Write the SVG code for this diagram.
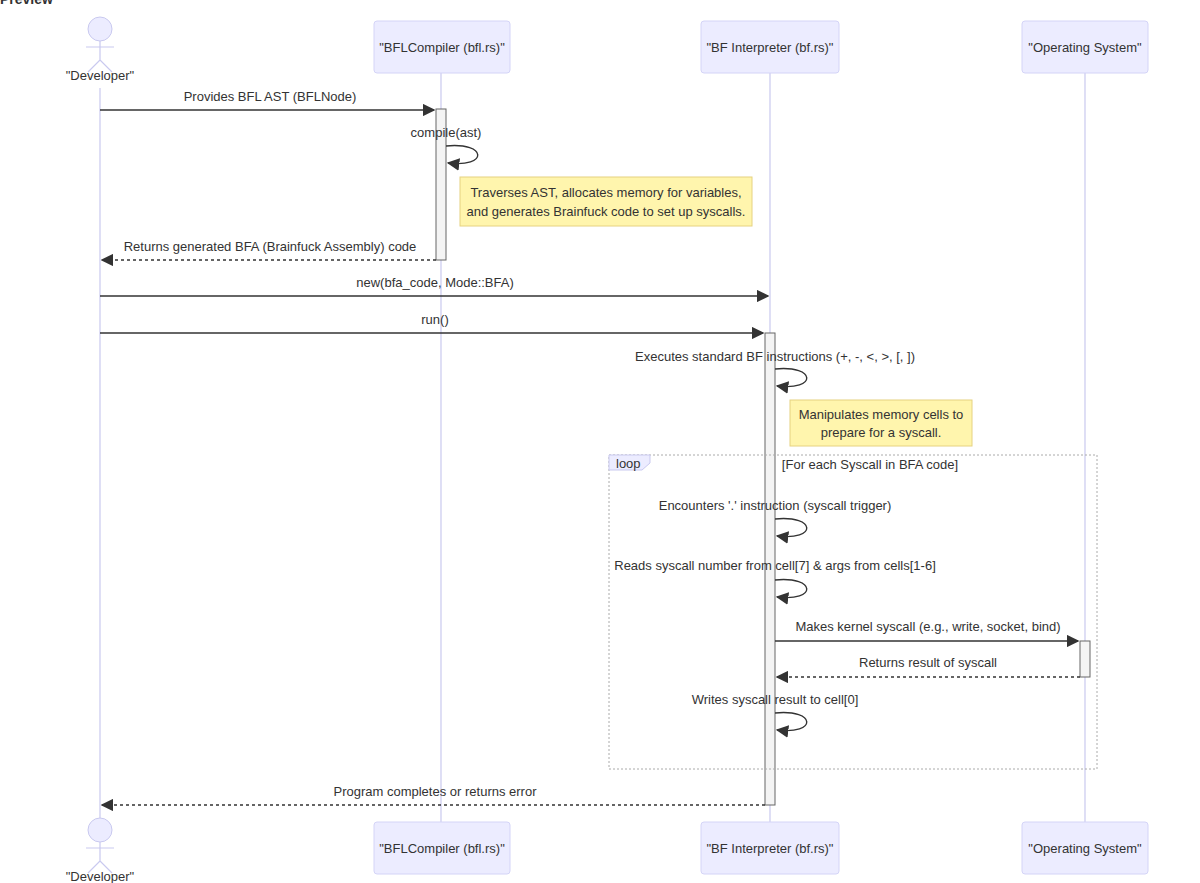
<svg xmlns="http://www.w3.org/2000/svg" width="1200" height="883" viewBox="0 0 1200 883">
<style>
text{font-family:"Liberation Sans",Arial,sans-serif;font-size:13px;fill:#333}
.box{fill:#ECECFF;stroke:#d4d4f7;stroke-width:1}
.life{stroke:#c9c9ef;stroke-width:1.2}
.act{fill:#f4f4f4;stroke:#666;stroke-width:1}
.msg{stroke:#333;stroke-width:1.4;fill:none}
.dash{stroke-dasharray:3,3}
.note{fill:#fff5ad;stroke:#e6d280;stroke-width:1}
.c{text-anchor:middle}
</style>
<defs><marker id="ah" viewBox="0 0 10 10" refX="9" refY="5" markerWidth="9" markerHeight="9" orient="auto"><path d="M0,0L10,5L0,10z" fill="#333"/></marker></defs>
<rect width="1200" height="883" fill="#fff"/>
<text x="0" y="4" style="font-weight:bold;font-size:14px">Preview</text>
<g id="lifelines">
<line class="life" x1="100" y1="88" x2="100" y2="818"/>
<line class="life" x1="441" y1="73" x2="441" y2="822"/>
<line class="life" x1="770" y1="73" x2="770" y2="822"/>
<line class="life" x1="1085" y1="73" x2="1085" y2="822"/>
</g>
<g id="developer">
<circle cx="100" cy="29" r="12" fill="#ECECFF" stroke="#c9c9ef"/>
<path d="M100,41V60M86,47H114M100,60L88,72M100,60L112,72" stroke="#c9c9ef" stroke-width="1.2" fill="none"/>
<text class="c" x="100" y="80">"Developer"</text>
</g>
<g id="developer-bottom">
<circle cx="100" cy="830" r="12" fill="#ECECFF" stroke="#c9c9ef"/>
<path d="M100,842V861M86,848H114M100,861L88,873M100,861L112,873" stroke="#c9c9ef" stroke-width="1.2" fill="none"/>
<text class="c" x="100" y="881">"Developer"</text>
</g>
<g id="compiler"><rect class="box" x="374" y="21" width="136" height="52" rx="3"/><text class="c" x="442" y="52">"BFLCompiler (bfl.rs)"</text></g>
<g id="interpreter"><rect class="box" x="701" y="21" width="138" height="52" rx="3"/><text class="c" x="770" y="52">"BF Interpreter (bf.rs)"</text></g>
<g id="os"><rect class="box" x="1022" y="21" width="126" height="52" rx="3"/><text class="c" x="1085" y="52">"Operating System"</text></g>
<g id="compiler-bottom"><rect class="box" x="374" y="822" width="136" height="52" rx="3"/><text class="c" x="442" y="853">"BFLCompiler (bfl.rs)"</text></g>
<g id="interpreter-bottom"><rect class="box" x="701" y="822" width="138" height="52" rx="3"/><text class="c" x="770" y="853">"BF Interpreter (bf.rs)"</text></g>
<g id="os-bottom"><rect class="box" x="1022" y="822" width="126" height="52" rx="3"/><text class="c" x="1085" y="853">"Operating System"</text></g>
<g id="activations">
<rect class="act" x="436" y="109" width="10" height="151"/>
<rect class="act" x="765" y="333" width="10" height="472"/>
<rect class="act" x="1080" y="641" width="10" height="36"/>
</g>
<g id="loop">
<rect x="609" y="455" width="488" height="314" fill="none" stroke="#aaa" stroke-dasharray="2,2"/>
<path d="M609,455H650V463L642,470H609Z" fill="#ECECFF" stroke="#c9c9ef"/>
<text x="616" y="468">loop</text>
<text class="c" x="870" y="469">[For each Syscall in BFA code]</text>
</g>
<g id="notes">
<rect class="note" x="460" y="177" width="292" height="49"/>
<text class="c" x="606" y="197">Traverses AST, allocates memory for variables,</text>
<text class="c" x="606" y="216">and generates Brainfuck code to set up syscalls.</text>
<rect class="note" x="790" y="400" width="182" height="46"/>
<text class="c" x="881" y="419">Manipulates memory cells to</text>
<text class="c" x="881" y="437">prepare for a syscall.</text>
</g>
<g id="connectors">
<line class="msg" x1="100" y1="110" x2="434" y2="110" marker-end="url(#ah)"/>
<text class="c" x="270" y="101">Provides BFL AST (BFLNode)</text>
<path class="msg" d="M446,146C488,142 488,168 448,163" marker-end="url(#ah)"/>
<text class="c" x="446" y="137">compile(ast)</text>
<line class="msg dash" x1="436" y1="260" x2="102" y2="260" marker-end="url(#ah)"/>
<text class="c" x="270" y="251">Returns generated BFA (Brainfuck Assembly) code</text>
<line class="msg" x1="100" y1="296" x2="768" y2="296" marker-end="url(#ah)"/>
<text class="c" x="435" y="287">new(bfa_code, Mode::BFA)</text>
<line class="msg" x1="100" y1="333" x2="763" y2="333" marker-end="url(#ah)"/>
<text class="c" x="435" y="324">run()</text>
<path class="msg" d="M775,369C817,365 817,391 777,386" marker-end="url(#ah)"/>
<text class="c" x="775" y="361">Executes standard BF instructions (+, -, &lt;, &gt;, [, ])</text>
<path class="msg" d="M775,519C817,515 817,541 777,536" marker-end="url(#ah)"/>
<text class="c" x="775" y="510">Encounters '.' instruction (syscall trigger)</text>
<path class="msg" d="M775,580C817,576 817,602 777,597" marker-end="url(#ah)"/>
<text class="c" x="775" y="570">Reads syscall number from cell[7] &amp; args from cells[1-6]</text>
<line class="msg" x1="775" y1="641" x2="1078" y2="641" marker-end="url(#ah)"/>
<text class="c" x="928" y="631">Makes kernel syscall (e.g., write, socket, bind)</text>
<line class="msg dash" x1="1080" y1="677" x2="777" y2="677" marker-end="url(#ah)"/>
<text class="c" x="928" y="667">Returns result of syscall</text>
<path class="msg" d="M775,713C817,709 817,735 777,730" marker-end="url(#ah)"/>
<text class="c" x="775" y="704">Writes syscall result to cell[0]</text>
<line class="msg dash" x1="765" y1="805" x2="102" y2="805" marker-end="url(#ah)"/>
<text class="c" x="435" y="796">Program completes or returns error</text>
</g>
</svg>
